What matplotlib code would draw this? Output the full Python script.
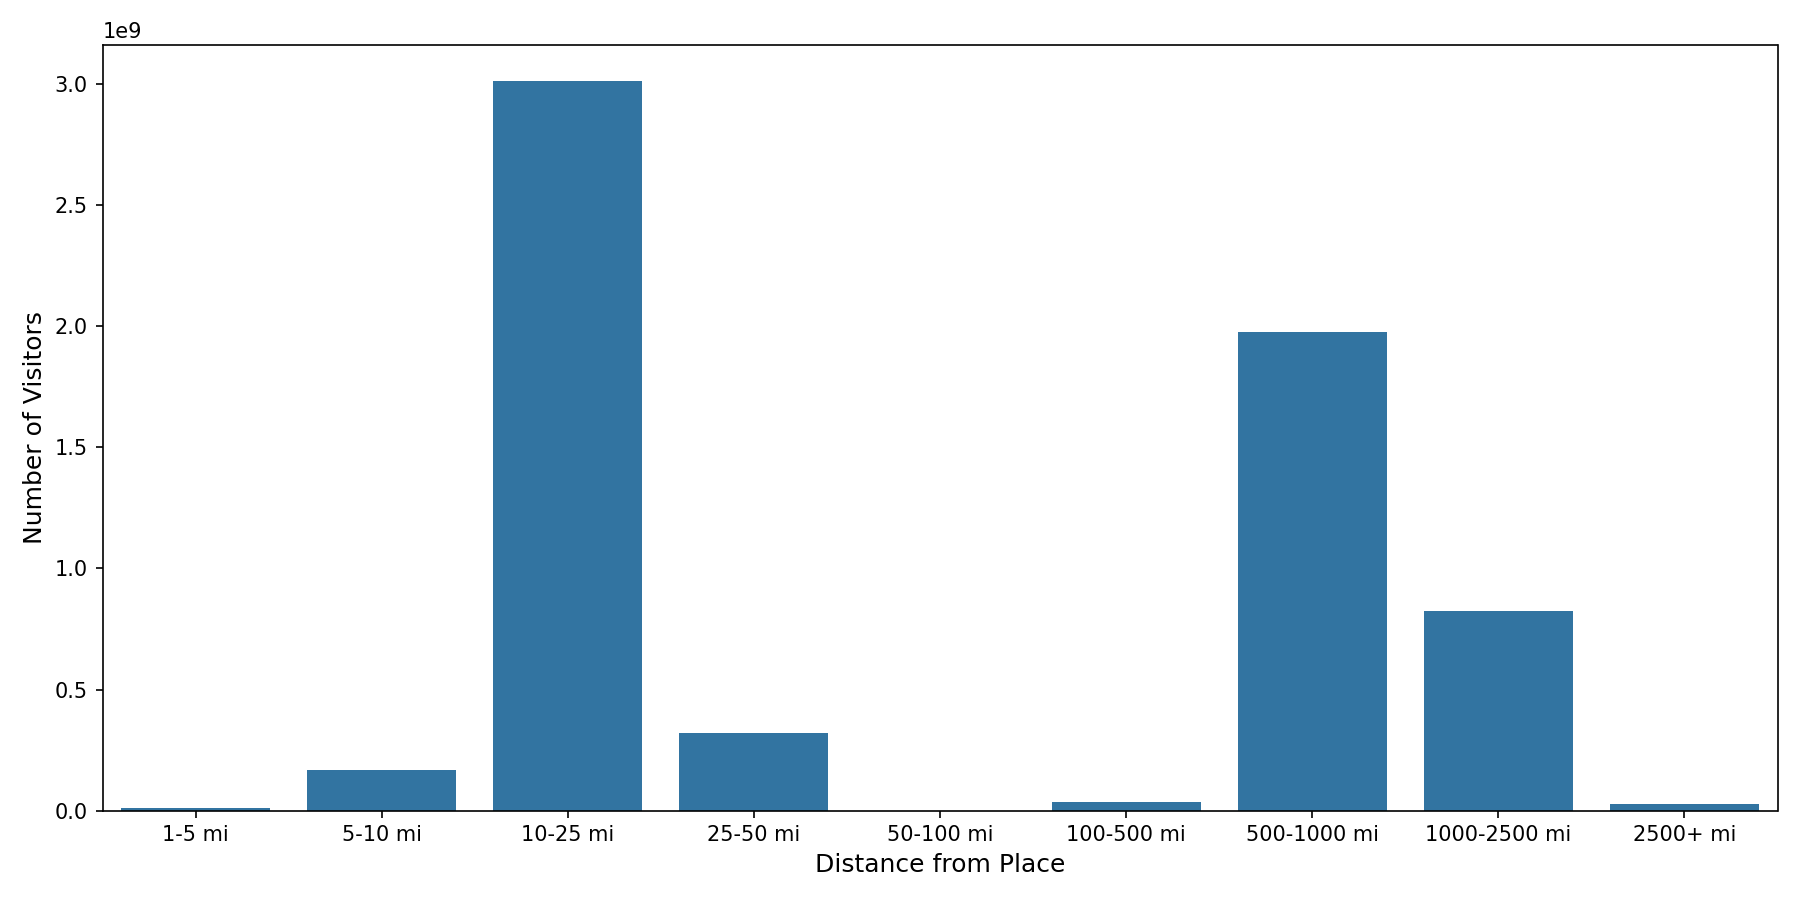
import matplotlib
matplotlib.use('Agg')
import matplotlib.pyplot as plt
import seaborn as sns
import pandas as pd

# distance buckets and visitor counts
distances = ['1-5 mi', '5-10 mi', '10-25 mi', '25-50 mi', '50-100 mi',
             '100-500 mi', '500-1000 mi', '1000-2500 mi', '2500+ mi']
visitors = [0.009e9, 0.167e9, 3.012e9, 0.320e9, 0.0,
            0.034e9, 1.977e9, 0.825e9, 0.026e9]

df = pd.DataFrame({'distance': distances, 'visitors': visitors})

fig = plt.figure(figsize=(12, 6), dpi=150)
ax = sns.barplot(data=df, x='distance', y='visitors', color='#1f77b4')

ax.set_xlabel('Distance from Place', fontsize=12)
ax.set_ylabel('Number of Visitors', fontsize=12)

plt.tight_layout()
plt.savefig('out.png', dpi=150)
